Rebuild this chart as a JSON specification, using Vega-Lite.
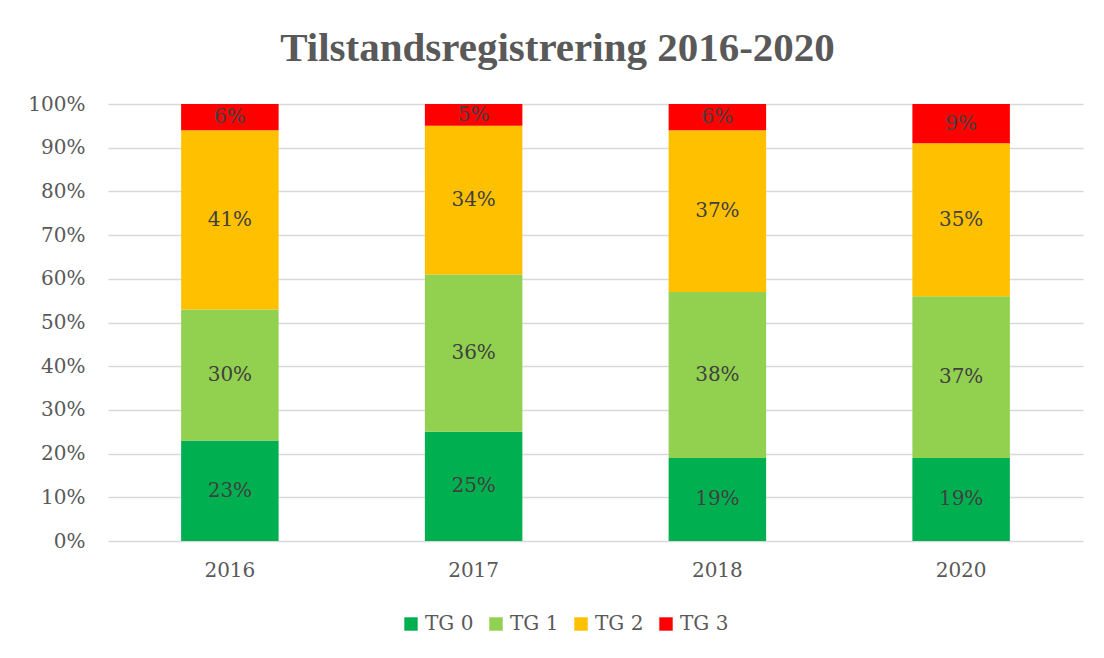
{
  "$schema": "https://vega.github.io/schema/vega-lite/v6.json",
  "width": 975,
  "height": 437,
  "autosize": {"type": "none"},
  "padding": {"left": 108, "top": 104, "right": 21, "bottom": 117},
  "background": "white",
  "title": {
    "text": "Tilstandsregistrering 2016-2020",
    "font": "Liberation Serif",
    "fontSize": 41,
    "fontWeight": "bold",
    "color": "#595959",
    "anchor": "middle",
    "dx": -38,
    "offset": 24
  },
  "data": {
    "values": [
      {"year": "2016", "tg": "TG 0", "value": 0.23},
      {"year": "2016", "tg": "TG 1", "value": 0.30},
      {"year": "2016", "tg": "TG 2", "value": 0.41},
      {"year": "2016", "tg": "TG 3", "value": 0.06},
      {"year": "2017", "tg": "TG 0", "value": 0.25},
      {"year": "2017", "tg": "TG 1", "value": 0.36},
      {"year": "2017", "tg": "TG 2", "value": 0.34},
      {"year": "2017", "tg": "TG 3", "value": 0.05},
      {"year": "2018", "tg": "TG 0", "value": 0.19},
      {"year": "2018", "tg": "TG 1", "value": 0.38},
      {"year": "2018", "tg": "TG 2", "value": 0.37},
      {"year": "2018", "tg": "TG 3", "value": 0.06},
      {"year": "2020", "tg": "TG 0", "value": 0.19},
      {"year": "2020", "tg": "TG 1", "value": 0.37},
      {"year": "2020", "tg": "TG 2", "value": 0.35},
      {"year": "2020", "tg": "TG 3", "value": 0.09}
    ]
  },
  "transform": [
    {"stack": "value", "groupby": ["year"], "sort": [{"field": "tg", "order": "ascending"}], "as": ["y0", "y1"]},
    {"calculate": "(datum.y0 + datum.y1) / 2", "as": "ymid"}
  ],
  "encoding": {
    "x": {
      "field": "year",
      "type": "nominal",
      "scale": {"paddingInner": 0.6, "paddingOuter": 0.3},
      "axis": {
        "title": null,
        "labelAngle": 0,
        "labelFont": "DejaVu Serif",
        "labelFontSize": 20,
        "labelColor": "#595959",
        "labelPadding": 19,
        "ticks": false,
        "domain": false,
        "grid": false
      }
    }
  },
  "layer": [
    {
      "mark": {"type": "bar"},
      "encoding": {
        "y": {
          "field": "y0",
          "type": "quantitative",
          "scale": {"domain": [0, 1]},
          "axis": {
            "title": null,
            "format": ".0%",
            "values": [0, 0.1, 0.2, 0.3, 0.4, 0.5, 0.6, 0.7, 0.8, 0.9, 1],
            "labelFont": "DejaVu Serif",
            "labelFontSize": 20,
            "labelColor": "#595959",
            "labelPadding": 23,
            "ticks": false,
            "domain": false,
            "grid": true,
            "gridColor": "#d9d9d9",
            "gridWidth": 1.5
          }
        },
        "y2": {"field": "y1"},
        "color": {
          "field": "tg",
          "type": "nominal",
          "scale": {
            "domain": ["TG 0", "TG 1", "TG 2", "TG 3"],
            "range": ["#00B050", "#92D050", "#FFC000", "#FF0000"]
          },
          "legend": {
            "title": null,
            "orient": "none",
            "legendX": 293,
            "legendY": 510,
            "direction": "horizontal",
            "symbolType": "square",
            "symbolSize": 180,
            "symbolStrokeWidth": 0,
            "labelFont": "DejaVu Serif",
            "labelFontSize": 20,
            "labelColor": "#595959",
            "columnPadding": 12
          }
        }
      }
    },
    {
      "mark": {"type": "text", "font": "DejaVu Serif", "fontSize": 20, "color": "#404040", "baseline": "middle"},
      "encoding": {
        "y": {"field": "ymid", "type": "quantitative"},
        "text": {"field": "value", "type": "quantitative", "format": ".0%"}
      }
    }
  ],
  "config": {"view": {"stroke": null}}
}
